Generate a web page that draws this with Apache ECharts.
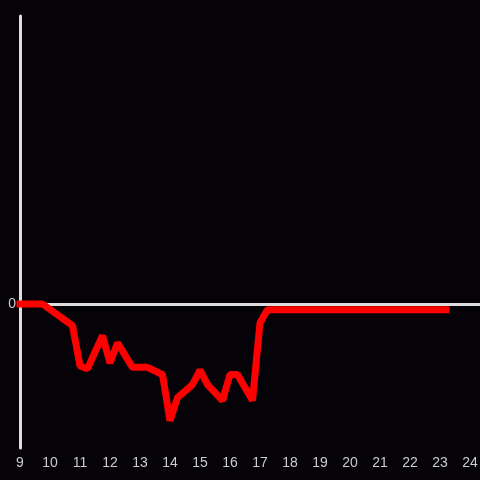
<!DOCTYPE html>
<html>
<head>
<meta charset="utf-8">
<script src="https://cdn.jsdelivr.net/npm/echarts@6/dist/echarts.min.js"></script>
<style>html,body{margin:0;padding:0;background:#050307;}#c{width:480px;height:480px;}</style>
</head>
<body>
<div id="c"></div>
<script>
const hours = [9.0, 9.75, 10.75, 11.0, 11.25, 11.75, 12.0, 12.25, 12.75, 13.25, 13.75, 14.0, 14.25, 14.75, 15.0, 15.25, 15.75, 16.0, 16.25, 16.75, 17.0, 17.25, 23.2];
const values = [0, 0, -0.15, -0.43, -0.45, -0.22, -0.41, -0.27, -0.44, -0.44, -0.49, -0.81, -0.65, -0.56, -0.46, -0.56, -0.67, -0.49, -0.49, -0.67, -0.13, -0.04, -0.04];
const xTicks = [9,10,11,12,13,14,15,16,17,18,19,20,21,22,23,24];

const chart = echarts.init(document.getElementById('c'));
chart.setOption({
  backgroundColor: '#050307',
  animation: false,
  grid: {left: 20, right: 0, top: 16, bottom: 32, containLabel: false, outerBoundsMode: 'none'},
  xAxis: {
    type: 'value', min: 9, max: 9 + 460/30, interval: 1,
    axisLine: {show: false}, axisTick: {show: false}, splitLine: {show: false},
    axisLabel: {color: '#cccccc', fontSize: 14, margin: 8,
      formatter: v => xTicks.includes(v) ? String(v) : ''}
  },
  yAxis: {
    type: 'value', min: -1, max: 2, interval: 1, z: 0,
    axisLine: {show: true, onZero: false, lineStyle: {color: '#dddddd', width: 3}},
    axisTick: {show: false}, splitLine: {show: false},
    axisLabel: {color: '#cccccc', fontSize: 14, margin: 4,
      formatter: v => v === 0 ? '0' : ''}
  },
  series: [{
    type: 'line',
    data: [],
    z: 1,
    markLine: {
      silent: true, symbol: 'none', label: {show: false},
      lineStyle: {color: '#dddddd', width: 3, type: 'solid'},
      data: [{yAxis: 0}]
    }
  }, {
    type: 'line',
    data: hours.map((h, i) => [h, values[i]]),
    symbol: 'none',
    clip: false,
    lineStyle: {color: '#ff0000', width: 7, cap: 'square'},
    z: 5
  }]
});
</script>
</body>
</html>
